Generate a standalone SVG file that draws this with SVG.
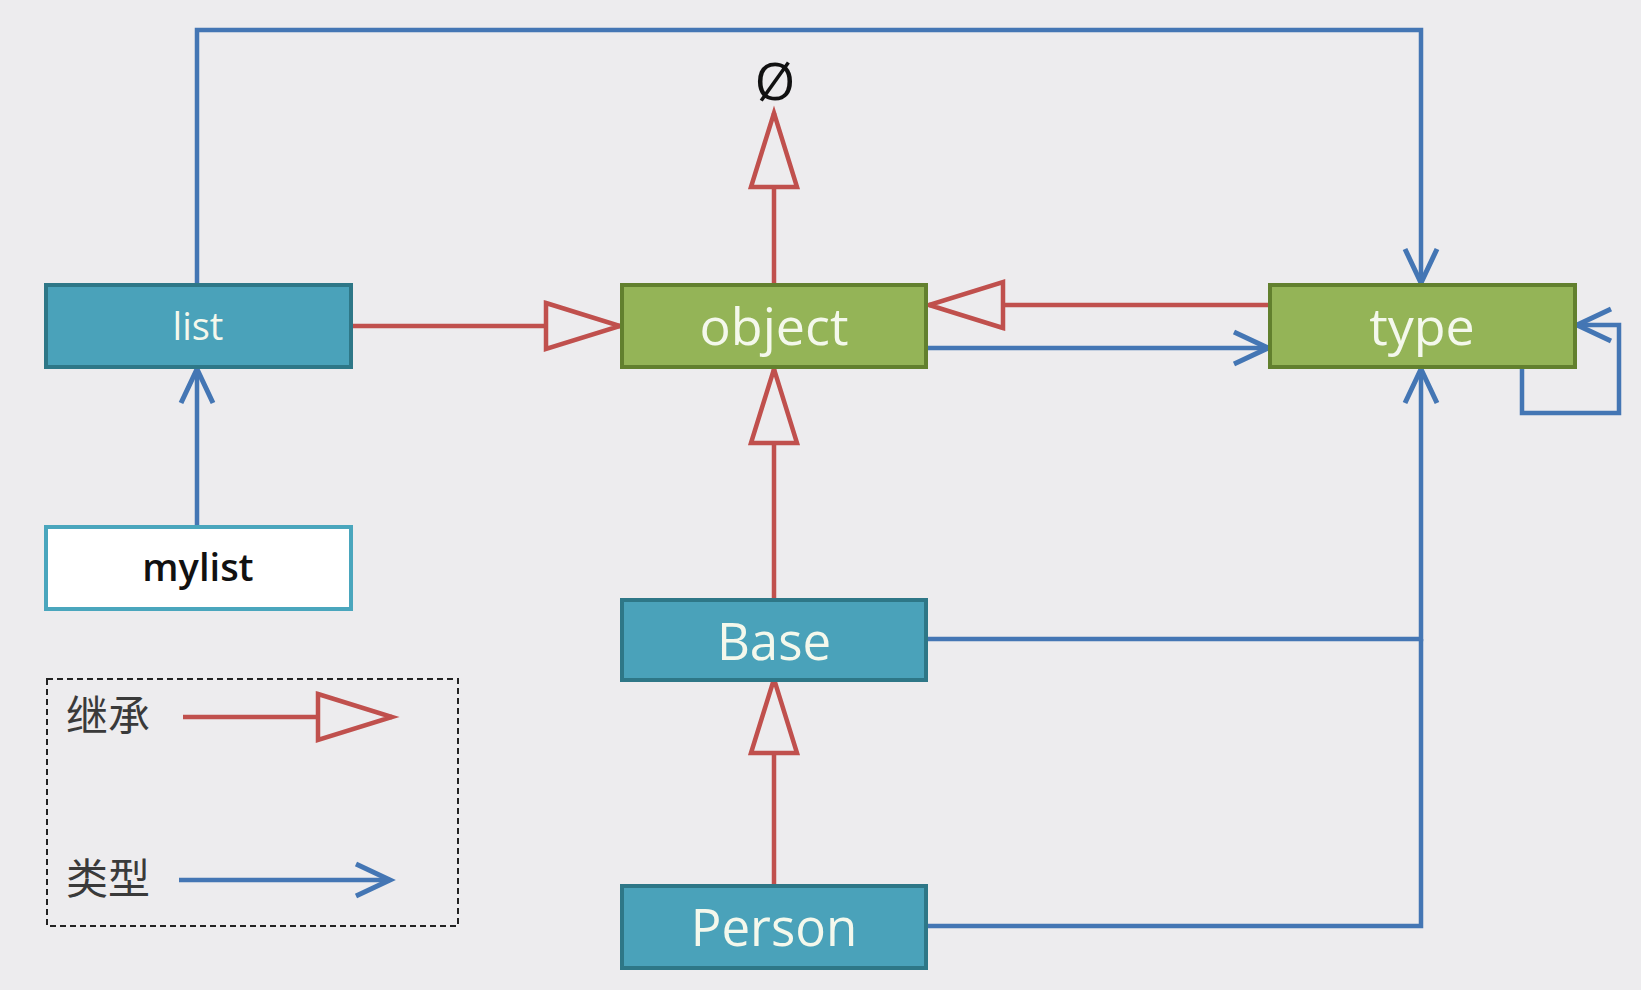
<svg xmlns="http://www.w3.org/2000/svg" width="1641" height="990" viewBox="0 0 1641 990">
  <style>
    .teal { fill: #4AA2BA; stroke: #2E7787; stroke-width: 4; }
    .green { fill: #94B457; stroke: #62802E; stroke-width: 4; }
    .outline { fill: #FFFFFF; stroke: #4AA6BD; stroke-width: 4; }
    .lbl { font-family: "Open Sans", "Liberation Sans", sans-serif; fill: #F4F8EC; text-anchor: middle; }
    .inh { fill: none; stroke: #C0504D; stroke-width: 4.5; }
    .typ { fill: none; stroke: #4476B4; stroke-width: 4.5; }
    .cjk { font-family: "Noto Sans CJK SC", "Noto Sans", sans-serif; font-size: 42px; fill: #3A3A3A; }
  </style>
  <defs>
    <marker id="tri" markerUnits="userSpaceOnUse" viewBox="-4 -4 82 54" markerWidth="82" markerHeight="54" refX="74" refY="23" orient="auto" overflow="visible">
      <path d="M0,0 L74,23 L0,46 Z" fill="#EDECEE" stroke="#C0504D" stroke-width="4.5" stroke-linejoin="miter"/>
    </marker>
    <marker id="chev" markerUnits="userSpaceOnUse" viewBox="-4 -4 42 40" markerWidth="42" markerHeight="40" refX="34" refY="16" orient="auto" overflow="visible">
      <path d="M0,0 L34,16 L0,32" fill="none" stroke="#4476B4" stroke-width="5" stroke-linejoin="miter"/>
    </marker>
  </defs>
  <rect x="0" y="0" width="1641" height="990" fill="#EDECEE"/>

  <g id="connectors">
    <path class="inh" d="M351,326 L620,326" marker-end="url(#tri)"/>
    <path class="inh" d="M774,285 L774,113" marker-end="url(#tri)"/>
    <path class="inh" d="M1270,305 L929,305" marker-end="url(#tri)"/>
    <path class="inh" d="M774,600 L774,369" marker-end="url(#tri)"/>
    <path class="inh" d="M774,886 L774,679" marker-end="url(#tri)"/>
    <path class="typ" d="M926,348 L1268,348" marker-end="url(#chev)"/>
    <path class="typ" d="M197,285 L197,30 L1421,30 L1421,283" marker-end="url(#chev)"/>
    <path class="typ" d="M197,527 L197,369" marker-end="url(#chev)"/>
    <path class="typ" d="M926,639 L1421,639 L1421,369" marker-end="url(#chev)"/>
    <path class="typ" d="M926,926 L1421,926 L1421,639"/>
    <path class="typ" d="M1522,367 L1522,413 L1619,413 L1619,325 L1577,325" marker-end="url(#chev)"/>
  </g>

  <g id="null">
    <text x="775" y="100" font-family="Open Sans, Liberation Sans, sans-serif" font-size="52" fill="#111" text-anchor="middle">Ø</text>
  </g>
  <g id="list">
    <rect class="teal" x="46" y="285" width="305" height="82"/>
    <text class="lbl" x="198" y="340" font-size="38">list</text>
  </g>
  <g id="object">
    <rect class="green" x="622" y="285" width="304" height="82"/>
    <text class="lbl" x="774" y="345" font-size="52">object</text>
  </g>
  <g id="type">
    <rect class="green" x="1270" y="285" width="305" height="82"/>
    <text class="lbl" x="1422" y="345" font-size="52">type</text>
  </g>
  <g id="mylist">
    <rect class="outline" x="46" y="527" width="305" height="82"/>
    <text x="198" y="581" font-family="Open Sans, Liberation Sans, sans-serif" font-size="38" font-weight="600" fill="#111" text-anchor="middle">mylist</text>
  </g>
  <g id="Base">
    <rect class="teal" x="622" y="600" width="304" height="80"/>
    <text class="lbl" x="774" y="660" font-size="51">Base</text>
  </g>
  <g id="Person">
    <rect class="teal" x="622" y="886" width="304" height="82"/>
    <text class="lbl" x="774" y="946" font-size="51">Person</text>
  </g>

  <g id="legend">
    <rect x="47" y="679" width="411" height="247" fill="none" stroke="#222" stroke-width="2" stroke-dasharray="6 4"/>
    <text class="cjk" x="66" y="731">继承</text>
    <path class="inh" d="M183,717 L392,717" marker-end="url(#tri)"/>
    <text class="cjk" x="66" y="894">类型</text>
    <path class="typ" d="M179,880 L390,880" marker-end="url(#chev)"/>
  </g>
</svg>
